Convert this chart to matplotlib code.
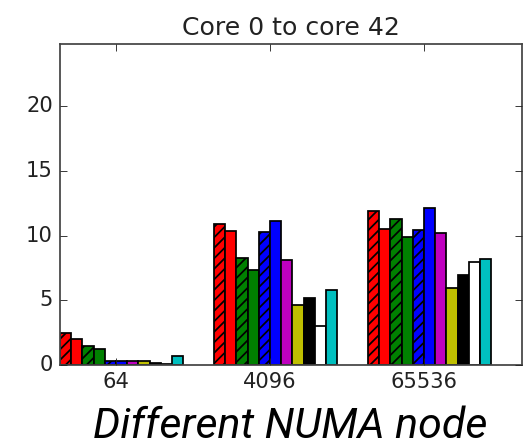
import numpy as np
import matplotlib
matplotlib.use("Agg")
import matplotlib.pyplot as plt

plt.style.use("classic")

sizes = ["64", "4096", "65536"]
series_colors = ["r", "r", "g", "g", "b", "b", "m", "y", "k", "w", "c"]
series_hatches = ["////", "", "////", "", "////", "", "", "", "", "", ""]

# one row per series, one column per message size
values = [
    [2.50, 10.86, 11.91],
    [2.00, 10.37, 10.52],
    [1.44, 8.24, 11.30],
    [1.26, 7.34, 9.91],
    [0.33, 10.27, 10.40],
    [0.33, 11.14, 12.10],
    [0.30, 8.08, 10.20],
    [0.30, 4.66, 5.92],
    [0.15, 5.15, 6.95],
    [0.05, 3.00, 7.93],
    [0.67, 5.77, 8.20],
]

DPI = 126
fig = plt.figure(figsize=(526 / DPI, 448 / DPI), dpi=DPI, facecolor="white")
ax = fig.add_axes([60 / 526, (448 - 365) / 448, (522 - 60) / 526, (365 - 44) / 448])

ind = np.arange(len(sizes))
width = 0.8 / len(values)
for i, (vals, col, hat) in enumerate(zip(values, series_colors, series_hatches)):
    ax.bar(ind + i * width, vals, width, color=col, hatch=hat,
           edgecolor="black", linewidth=1.0, align="edge")

ax.set_xlim(0, 3)
ax.set_ylim(0, 24.8)
ax.set_yticks([0, 5, 10, 15, 20])
ax.set_xticks(ind + width * 5)
ax.set_xticklabels(sizes, color="#222222")
ax.tick_params(colors="#222222", labelcolor="#222222")
for sp in ax.spines.values():
    sp.set_color("#444444")
ax.set_title("Core 0 to core 42", fontsize=14.4, color="#222222")

fig.text(0.551, 0.003, "Different NUMA node", family="Roboto", style="italic",
         fontsize=24.5, ha="center", va="bottom")

fig.savefig("out.png", dpi=DPI, facecolor="white")
